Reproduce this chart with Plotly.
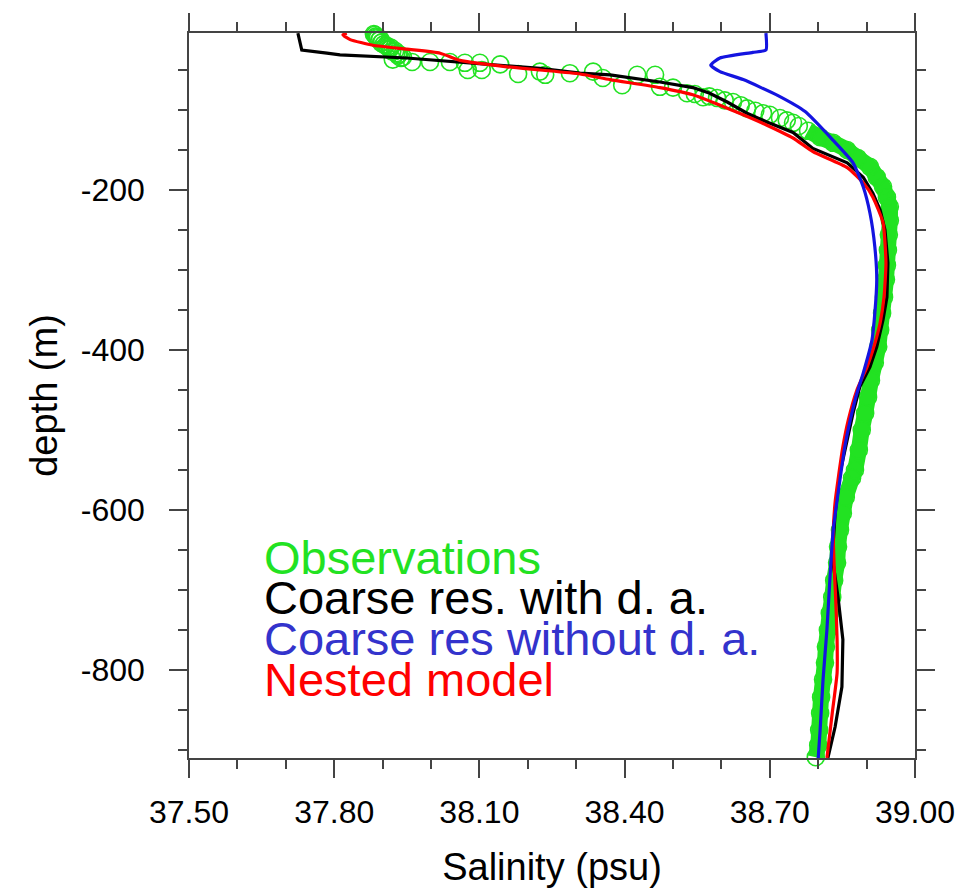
import plotly.graph_objects as go

# ---------------- data (salinity in psu, depth in m) ----------------
black_sal = [37.725, 37.733, 37.785, 37.812, 37.950, 38.087, 38.225, 38.308, 38.370, 38.473,
             38.541, 38.576, 38.612, 38.653, 38.694, 38.748, 38.789, 38.860, 38.893, 38.913,
             38.928, 38.938, 38.944, 38.942, 38.934, 38.921, 38.907, 38.886, 38.872, 38.860,
             38.845, 38.835, 38.829, 38.841, 38.851, 38.849, 38.835, 38.820]
black_depth = [-4, -25, -29, -31, -35, -41, -48, -54, -56, -65,
               -72, -79, -90, -104, -115, -128, -148, -166, -184, -204,
               -225, -250, -291, -334, -362, -396, -421, -446, -479, -512,
               -554, -604, -659, -709, -762, -821, -871, -910]

red_sal = [37.826, 37.818, 37.833, 37.880, 37.950, 38.019, 38.060, 38.157, 38.225, 38.308,
           38.370, 38.473, 38.541, 38.597, 38.645, 38.694, 38.748, 38.789, 38.860, 38.893,
           38.913, 38.934, 38.940, 38.936, 38.928, 38.913, 38.901, 38.880, 38.862, 38.851,
           38.841, 38.835, 38.831, 38.833, 38.836, 38.839, 38.839, 38.829, 38.818]
red_depth = [-4, -6, -12, -19, -24, -29, -38, -46, -50, -55,
             -62, -72, -81, -94, -106, -119, -135, -152, -172, -191,
             -209, -241, -291, -334, -366, -400, -421, -450, -488, -521,
             -562, -590, -630, -670, -709, -762, -804, -854, -910]

blue_sal = [38.692, 38.692, 38.665, 38.597, 38.578, 38.597, 38.645, 38.717, 38.773, 38.831,
            38.872, 38.893, 38.907, 38.917, 38.921, 38.917, 38.911, 38.893, 38.880, 38.866,
            38.855, 38.845, 38.831, 38.824, 38.818, 38.810, 38.804, 38.800]
blue_depth = [-4, -25, -28, -35, -44, -52, -62, -82, -102, -138,
              -166, -196, -229, -271, -312, -354, -388, -429, -454, -488,
              -521, -562, -625, -688, -750, -812, -875, -910]

obs_sal = [37.878, 37.880, 37.882, 37.884, 37.886, 37.888, 37.890, 37.893, 37.895, 37.897,
           37.899, 37.902, 37.907, 37.910, 37.915, 37.917, 37.920, 37.926, 37.928, 37.932,
           37.934, 37.938, 37.942,
           37.921, 37.961, 37.998, 38.039, 38.070, 38.076, 38.101, 38.105, 38.143, 38.180,
           38.225, 38.236, 38.287, 38.335, 38.355, 38.395, 38.426, 38.463, 38.473, 38.500,
           38.529, 38.545, 38.562, 38.575, 38.591, 38.607, 38.624, 38.640, 38.653, 38.670,
           38.686, 38.700, 38.721, 38.735, 38.748, 38.760,
           38.779, 38.804, 38.831, 38.860, 38.882, 38.907, 38.921, 38.934, 38.942, 38.948,
           38.948, 38.946, 38.944, 38.942, 38.940, 38.936, 38.932, 38.928, 38.924, 38.917,
           38.909, 38.903, 38.897, 38.890, 38.884, 38.876, 38.870, 38.857, 38.851, 38.845,
           38.841, 38.839, 38.833, 38.829, 38.824, 38.820, 38.816, 38.814, 38.810, 38.806,
           38.804, 38.802, 38.800, 38.795]
obs_depth = [-3, -2.5, -5, -6, -8, -9, -10, -13, -11, -16,
             -15, -18, -19, -21, -24, -22, -27, -26, -29, -32,
             -30, -35, -34,
             -37, -40, -40, -40, -41, -50, -41, -50, -43, -55,
             -52, -56, -54, -52, -60, -69, -56, -56, -71, -72,
             -79, -80, -84, -83, -85, -88, -90, -94, -98, -101,
             -104, -106, -110, -113, -116, -120,
             -126, -134, -141, -150, -160, -171, -184, -196, -209, -221,
             -238, -256, -275, -294, -312, -334, -354, -375, -396, -416,
             -438, -459, -479, -500, -525, -550, -560, -584, -604, -625,
             -646, -666, -688, -709, -729, -750, -771, -791, -812, -834,
             -854, -875, -894, -909]

x_tick_vals = [37.5, 37.8, 38.1, 38.4, 38.7, 39.0]
x_tick_text = ["37.50", "37.80", "38.10", "38.40", "38.70", "39.00"]
y_tick_vals = [-800, -600, -400, -200]
y_tick_text = ["-800", "-600", "-400", "-200"]

legend_labels = ["Observations", "Coarse res. with d. a.", "Coarse res without d. a.", "Nested model"]

# ---------------- styles ----------------
GREEN = "#22e222"
BLACK = "#000000"
BLUE = "#1414e0"
BLUE_TXT = "#3333cc"
RED = "#ff0000"
FONT = "Liberation Sans, Arial, Helvetica, sans-serif"
AX = "#444444"

fig = go.Figure()

# dense part of the observation profile drawn as a continuous band under the circles
band_sal = [s for s, d in zip(obs_sal, obs_depth) if d <= -126]
band_depth = [d for d in obs_depth if d <= -126]
fig.add_trace(go.Scatter(x=band_sal, y=band_depth, mode="lines",
                         line=dict(color=GREEN, width=16, shape="spline", smoothing=0.6),
                         hoverinfo="skip", cliponaxis=False))
fig.add_trace(go.Scatter(x=obs_sal, y=obs_depth, mode="markers",
                         marker=dict(symbol="circle-open", size=17, color=GREEN,
                                     line=dict(width=1.6)),
                         cliponaxis=False, name=legend_labels[0]))
fig.add_trace(go.Scatter(x=black_sal, y=black_depth, mode="lines",
                         line=dict(color=BLACK, width=3.2), name=legend_labels[1]))
fig.add_trace(go.Scatter(x=red_sal, y=red_depth, mode="lines",
                         line=dict(color=RED, width=3.2, shape="spline", smoothing=0.5),
                         name=legend_labels[3]))
fig.add_trace(go.Scatter(x=blue_sal, y=blue_depth, mode="lines",
                         line=dict(color=BLUE, width=3.2, shape="spline", smoothing=0.5),
                         name=legend_labels[2]))

legend_colors = [GREEN, BLACK, BLUE_TXT, RED]
legend_y = [0.2765, 0.2213, 0.1648, 0.1082]
for lab, col, yy in zip(legend_labels, legend_colors, legend_y):
    fig.add_annotation(text=lab, xref="paper", yref="paper", x=0.1006, y=yy,
                       xanchor="left", yanchor="middle", showarrow=False,
                       font=dict(family=FONT, size=47, color=col))

axis_common = dict(showgrid=False, zeroline=False, showline=True, linecolor=AX, linewidth=1.5,
                   mirror="allticks", ticks="outside", ticklen=18, tickwidth=1.5, tickcolor=AX,
                   automargin=False,
                   tickfont=dict(family=FONT, size=32, color="black"))

fig.update_xaxes(range=[37.5, 39.0], tickmode="array", tickvals=x_tick_vals, ticktext=x_tick_text,
                 minor=dict(dtick=0.1, tick0=37.5, ticks="outside", ticklen=9, tickwidth=1.5,
                            tickcolor=AX, showgrid=False),
                 ticklabelstandoff=7,
                 title=dict(text="Salinity (psu)", font=dict(family=FONT, size=38, color="black"),
                            standoff=24),
                 **axis_common)
fig.update_yaxes(range=[-910, -3.75], tickmode="array", tickvals=y_tick_vals, ticktext=y_tick_text,
                 minor=dict(dtick=50, tick0=0, ticks="outside", ticklen=9, tickwidth=1.5,
                            tickcolor=AX, showgrid=False),
                 ticklabelstandoff=18,
                 title=dict(text="depth (m)", font=dict(family=FONT, size=38, color="black"),
                            standoff=12),
                 **axis_common)

# the page adds an 8 px body margin, so the figure is sized to fit inside the window
fig.update_layout(width=956, height=880, margin=dict(l=181, r=49, t=25, b=130),
                  plot_bgcolor="white", paper_bgcolor="white", showlegend=False,
                  font=dict(family=FONT))

fig.write_html("out.html")
